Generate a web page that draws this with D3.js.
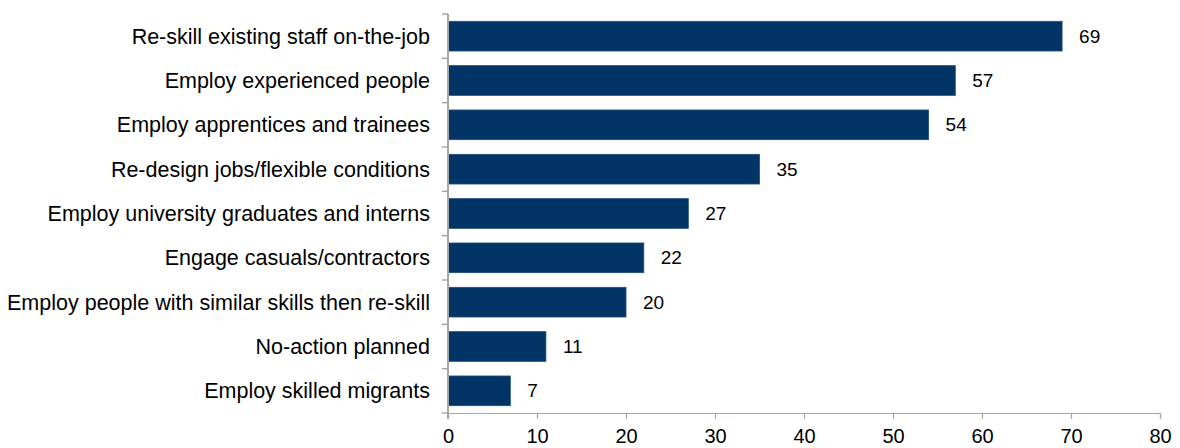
<!DOCTYPE html>
<html>
<head>
<meta charset="utf-8">
<script src="https://cdn.jsdelivr.net/npm/d3@7"></script>
<style>
  html, body { margin: 0; padding: 0; background: #fff; }
  svg { display: block; font-family: "Liberation Sans", Arial, sans-serif; }
</style>
</head>
<body>
<svg id="chart" width="1180" height="448"></svg>
<script>
// Planned responses to skills needs (% of respondents)
const categories = [
  "Re-skill existing staff on-the-job",
  "Employ experienced people",
  "Employ apprentices and trainees",
  "Re-design jobs/flexible conditions",
  "Employ university graduates and interns",
  "Engage casuals/contractors",
  "Employ people with similar skills then re-skill",
  "No-action planned",
  "Employ skilled migrants"
];
const values = [69, 57, 54, 35, 27, 22, 20, 11, 7];
const xTicks = [0, 10, 20, 30, 40, 50, 60, 70, 80];

const margin = { top: 14, left: 448, right: 20, bottom: 35 };
const plotW = 712, plotH = 399;

const svg = d3.select("#chart");
const g = svg.append("g").attr("transform", `translate(${margin.left},${margin.top})`);

const x = d3.scaleLinear().domain([0, 80]).range([0, plotW]);
const y = d3.scaleBand().domain(categories).range([0, plotH]).paddingInner(0.33).paddingOuter(0.165);

const axisColor = "#a6a6a6";

// bars
g.selectAll("rect.bar")
  .data(values)
  .join("rect")
  .attr("class", "bar")
  .attr("x", 0)
  .attr("y", (d, i) => y(categories[i]))
  .attr("width", d => x(d))
  .attr("height", y.bandwidth())
  .attr("fill", "#023566")
  .attr("stroke", "#1d4d7c")
  .attr("stroke-width", 0.8);

// value labels
g.selectAll("text.val")
  .data(values)
  .join("text")
  .attr("class", "val")
  .attr("x", d => x(d) + 17)
  .attr("y", (d, i) => y(categories[i]) + y.bandwidth() / 2)
  .attr("dy", "0.35em")
  .attr("font-size", 19)
  .attr("fill", "#000")
  .text(d => d);

// x axis
const xAxis = g.append("g")
  .attr("transform", `translate(0,${plotH})`)
  .call(d3.axisBottom(x).tickValues(xTicks).tickSize(6).tickPadding(10).tickFormat(d3.format("d")));
xAxis.select(".domain").attr("stroke", axisColor).attr("stroke-width", 1.2);
xAxis.selectAll(".tick line").attr("stroke", axisColor).attr("stroke-width", 1.2);
xAxis.selectAll(".tick text").attr("font-size", 20).attr("fill", "#000").attr("font-family", "Liberation Sans, Arial, sans-serif");

// y axis: line with ticks at category boundaries
const step = plotH / categories.length;
const boundaries = d3.range(categories.length + 1).map(i => i * step);
g.append("line")
  .attr("x1", 0).attr("x2", 0)
  .attr("y1", 0).attr("y2", plotH + 6)
  .attr("stroke", axisColor).attr("stroke-width", 2);
g.selectAll("line.ytick")
  .data(boundaries)
  .join("line")
  .attr("class", "ytick")
  .attr("x1", -6).attr("x2", 0)
  .attr("y1", d => d).attr("y2", d => d)
  .attr("stroke", axisColor).attr("stroke-width", 1.5);

// category labels
g.selectAll("text.cat")
  .data(categories)
  .join("text")
  .attr("class", "cat")
  .attr("x", -18)
  .attr("y", d => y(d) + y.bandwidth() / 2)
  .attr("dy", "0.35em")
  .attr("text-anchor", "end")
  .attr("font-size", 21.5)
  .attr("fill", "#000")
  .text(d => d);
</script>
</body>
</html>
